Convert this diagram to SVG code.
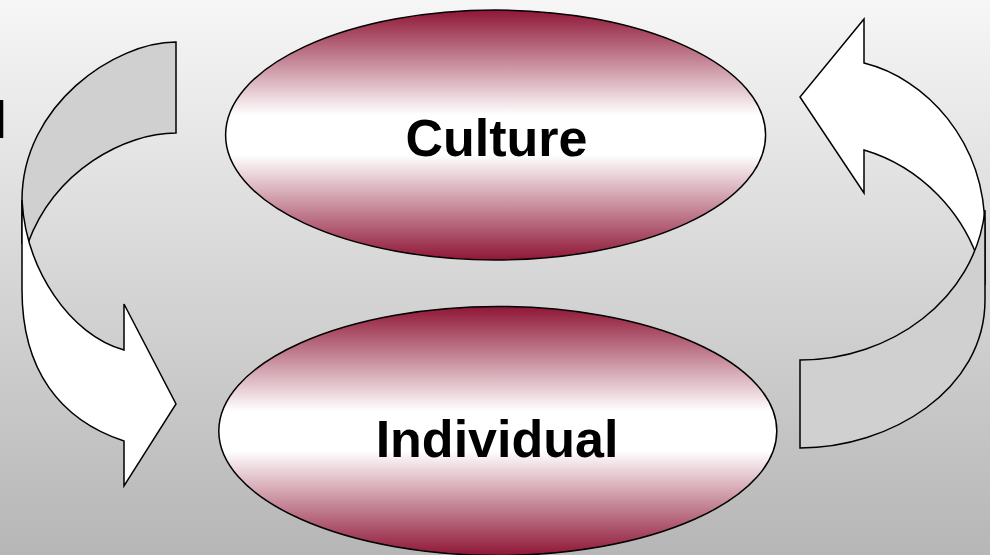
<svg xmlns="http://www.w3.org/2000/svg" width="990" height="555" viewBox="0 0 990 555">
<defs>
<linearGradient id="bg" x1="0" y1="0" x2="0" y2="1">
<stop offset="0" stop-color="#f6f6f6"/>
<stop offset="1" stop-color="#b6b6b6"/>
</linearGradient>
<linearGradient id="oval" x1="0" y1="0" x2="0" y2="1">
<stop offset="0" stop-color="#8f1636"/>
<stop offset="0.42" stop-color="#ffffff"/>
<stop offset="0.58" stop-color="#ffffff"/>
<stop offset="1" stop-color="#8f1636"/>
</linearGradient>
</defs>
<style>
.node{fill:url(#oval);stroke:#000;stroke-width:1.5}
.lbl{font-family:"Liberation Sans",Arial,sans-serif;font-weight:bold;font-size:52px;fill:#000}
.back{fill:#d0d0d0;stroke:#000;stroke-width:1.5;stroke-linejoin:miter}
.front{fill:#ffffff;stroke:#000;stroke-width:1.5;stroke-linejoin:miter}
</style>
<rect x="0" y="0" width="990" height="555" fill="url(#bg)"/>
<text class="lbl" x="-7.5" y="138">l</text>
<g id="connectors">
<g id="arrow-left">
<path class="back" d="M176,42 C115,42 22,105 22,200 L22,243 L28,243 C55,170 125,133 176,133 Z"/>
<path class="front" d="M22,200 L22,290 C22,370 60,420 124,441 L124,486 L176,404 L124,304 L124,350 C70,335 26,270 22,200 Z"/>
</g>
<g id="arrow-right">
<path class="front" d="M864,19 L800,97 L864,193 L864,150 C915,165 970,210 985,285 L985,230 C985,140 925,78 864,63 Z"/>
<path class="back" d="M800,360 C890,360 975,300 985,210 L985,300 C985,390 890,448 800,448 Z"/>
</g>
</g>
<g id="culture">
<ellipse class="node" cx="495.6" cy="135" rx="270" ry="125"/>
<text class="lbl" x="496.5" y="156" text-anchor="middle">Culture</text>
</g>
<g id="individual">
<ellipse class="node" cx="497.8" cy="431" rx="279" ry="124.5"/>
<text class="lbl" x="497" y="457" text-anchor="middle">Individual</text>
</g>
</svg>
